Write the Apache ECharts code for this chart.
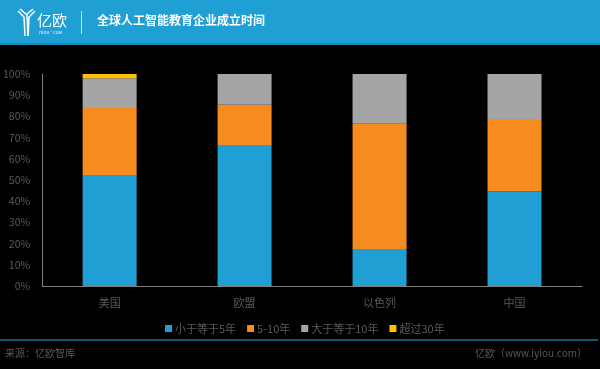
<!DOCTYPE html>
<html><head><meta charset="utf-8">
<script src="https://cdn.jsdelivr.net/npm/echarts@6/dist/echarts.min.js"></script>
<style>html,body{margin:0;padding:0;background:#000;}#c{width:600px;height:369px;}</style>
</head><body><div id="c"></div>
<script>
const categories = ['美国', '欧盟', '以色列', '中国'];
const seriesNames = ['小于等于5年', '5-10年', '大于等于10年', '超过30年'];
const lessThan5 = [52, 66.5, 17.5, 44.7];
const from5to10 = [32, 19, 59, 34.1];
const over10 = [14, 14.5, 23.5, 21.2];
const over30 = [2, 0, 0, 0];
const yTicks = [0, 10, 20, 30, 40, 50, 60, 70, 80, 90, 100];
const title = '全球人工智能教育企业成立时间';
const sourceText = '来源：亿欧智库';
const siteText = '亿欧（www.iyiou.com）';

const colors = ['#1f9fd4', '#f68b1f', '#a5a5a5', '#ffc000'];
const values = [lessThan5, from5to10, over10, over30];
const font = '"Noto Sans CJK SC", "Noto Sans", sans-serif';

const chart = echarts.init(document.getElementById('c'));
chart.setOption({
  backgroundColor: '#000',
  animation: false,
  textStyle: { fontFamily: font },
  grid: { left: 40, right: 18, top: 74, bottom: 83, containLabel: false },
  legend: {
    data: seriesNames,
    left: 160, top: 318,
    itemWidth: 7, itemHeight: 7, itemGap: 11,
    icon: 'rect',
    textStyle: { color: '#595959', fontSize: 11, fontFamily: font, padding: [0, 0, 0, -2] }
  },
  xAxis: {
    type: 'category', data: categories,
    axisLine: { lineStyle: { color: '#7f7f7f', width: 1 } },
    axisTick: { show: false },
    axisLabel: { color: '#595959', fontSize: 11, margin: 11, fontFamily: font }
  },
  yAxis: {
    type: 'value', min: 0, max: 100, interval: 10,
    axisLine: { show: true, lineStyle: { color: '#7f7f7f', width: 1 } },
    axisTick: { show: false },
    splitLine: { show: false },
    axisLabel: { color: '#595959', fontSize: 10.5, margin: 12, fontFamily: font,
      formatter: v => yTicks.indexOf(v) >= 0 ? v + '%' : '' }
  },
  series: seriesNames.map((n, i) => ({
    name: n, type: 'bar', stack: 'total', barWidth: 54,
    itemStyle: { color: colors[i] },
    data: values[i]
  })),
  color: colors,
  graphic: [
    { type: 'rect', shape: { x: 0, y: 0, width: 600, height: 44 }, style: { fill: '#1f9fd4' }, z: 10 },
    { type: 'rect', shape: { x: 0, y: 43, width: 600, height: 2 }, style: { fill: '#1a86b4' }, z: 10 },
    // logo Y
    { type: 'polyline', shape: { points: [[18, 11], [24, 17], [25, 36]] }, style: { stroke: '#fff', lineWidth: 1.5, fill: null }, z: 11 },
    { type: 'polyline', shape: { points: [[20, 9], [27, 15], [28, 36]] }, style: { stroke: '#fff', lineWidth: 1.5, fill: null }, z: 11 },
    { type: 'polyline', shape: { points: [[35, 11], [29, 17], [28, 36]] }, style: { stroke: '#fff', lineWidth: 1.5, fill: null }, z: 11 },
    { type: 'polyline', shape: { points: [[33, 9], [26, 15]] }, style: { stroke: '#fff', lineWidth: 1.5, fill: null }, z: 11 },
    { type: 'text', left: 37, top: 13, style: { text: '亿欧', fill: '#fff', font: '15px ' + font }, z: 11 },
    { type: 'text', left: 39, top: 30, style: { text: 'IYIOU·COM', fill: '#fff', font: '4px ' + font }, z: 11 },
    { type: 'rect', shape: { x: 81, y: 11, width: 1, height: 23 }, style: { fill: '#bfe3f3' }, z: 11 },
    { type: 'text', left: 97, top: 14, style: { text: title, fill: '#fff', font: 'bold 12px ' + font }, z: 11 },
    // footer
    { type: 'rect', shape: { x: 0, y: 339, width: 598, height: 2 }, style: { fill: '#0e5a75' }, z: 10 },
    { type: 'text', left: 5, top: 348, style: { text: sourceText, fill: '#595959', font: '10px ' + font }, z: 11 },
    { type: 'text', right: 13, top: 348, style: { text: siteText, fill: '#595959', font: '10px ' + font }, z: 11 }
  ]
});
</script></body></html>
